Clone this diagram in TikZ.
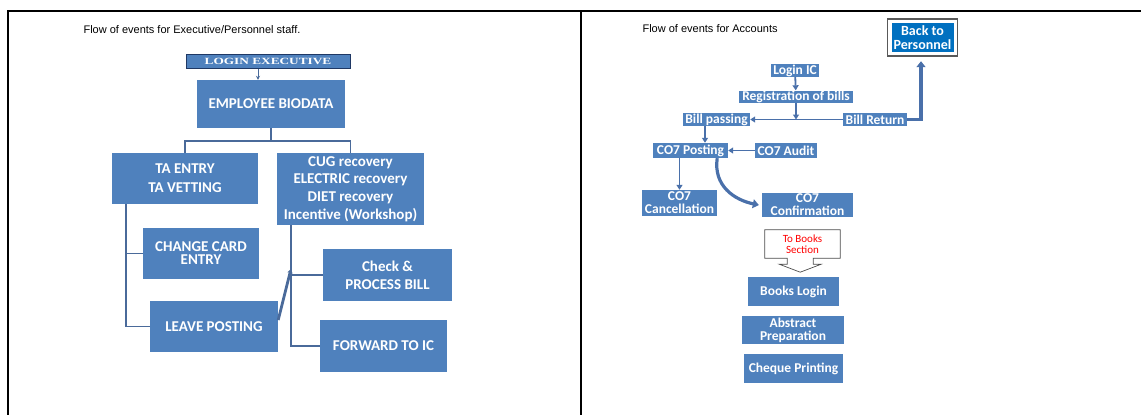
\documentclass[tikz,border=0pt]{standalone}
\usepackage{fontspec}
\usepackage{graphicx}
\setmainfont{Liberation Sans}
\newfontfamily\calfont{Carlito}
\newfontfamily\serfont{Liberation Serif}
\usetikzlibrary{arrows.meta,calc}
\definecolor{boxblue}{HTML}{4F81BD}
\definecolor{lineblue}{HTML}{4A6A9A}
\definecolor{arrblue}{HTML}{4A70AA}
\definecolor{backblue}{HTML}{0070C0}
\definecolor{navy}{HTML}{1F3864}
\begin{document}
\begin{tikzpicture}[x=1pt,y=-1pt,
 lbox/.style={fill=boxblue, text=white, inner sep=0pt, align=center, font=\calfont\bfseries\fontsize{15}{18}\selectfont},
 rbox/.style={fill=boxblue, text=white, inner sep=0pt, align=center, font=\calfont\bfseries\fontsize{13.5}{13}\selectfont},
 conn/.style={draw=lineblue, line width=1.8pt},
 rarr/.style={draw=arrblue, line width=1.8pt, -{Triangle[length=5pt,width=6pt]}},
 bigarr/.style={draw=arrblue, line width=3.2pt, -{Triangle[length=6pt,width=9pt]}},
 framel/.style={draw=black, line width=1.8pt},
]
\useasboundingbox (0,0) rectangle (1141,415);
% table frame
\draw[framel] (8,11) -- (1141,11);
\draw[framel] (8,10) -- (8,415);
\draw[framel] (581,10) -- (581,415);

% ---------- left panel ----------
\node[anchor=west, font=\fontsize{11}{12}\selectfont] (t1) at (80,30) {Flow of events for Executive/Personnel staff.};
\node[fill=boxblue, draw=navy, line width=1pt, minimum width=164, minimum height=14, inner sep=0pt, text=white,
      font=\serfont\bfseries\fontsize{9.5}{10}\selectfont] (login) at (268,61) {\scalebox{1.4}[1]{LOGIN EXECUTIVE}};
\node[lbox, minimum width=148, minimum height=48] (emp) at (271,104) {EMPLOYEE BIODATA};
\node[lbox, minimum width=146, minimum height=51, font=\calfont\bfseries\fontsize{15}{19}\selectfont] (ta) at (185,178.5) {TA ENTRY\\TA VETTING};
\node[lbox, minimum width=147, minimum height=72, font=\calfont\bfseries\fontsize{15}{17.7}\selectfont] (cug) at (350.5,189) {CUG recovery\\ELECTRIC recovery\\DIET recovery\\Incentive (Workshop)};
\node[lbox, minimum width=116, minimum height=51, font=\calfont\bfseries\fontsize{15}{13}\selectfont] (ccard) at (201,253.5) {CHANGE CARD\\ENTRY};
\node[lbox, minimum width=128, minimum height=51] (leave) at (214,326.5) {LEAVE POSTING};
\node[lbox, minimum width=129, minimum height=52] (check) at (387.5,275) {Check \&\\PROCESS BILL};
\node[lbox, minimum width=127, minimum height=52] (fwd) at (383.5,346) {FORWARD TO IC};

\draw[draw=lineblue, line width=0.8pt, -{Stealth[length=4pt,width=4pt]}] ([xshift=-10pt]login.south) -- ([xshift=-13pt]emp.north);
\coordinate (split) at (271,141);
\draw[conn] (emp.south) -- (split);
\draw[conn] (ta.north) |- (split) -| (cug.north);
\draw[conn] ([xshift=14pt]ta.south west) |- (leave.west);
\draw[conn] ([xshift=14pt]ta.south west |- ccard.west) -- (ccard.west);
\draw[conn] ([xshift=14pt]cug.south west) |- (fwd.west);
\draw[conn] ([xshift=14pt]cug.south west |- check.west) -- (check.west);
\coordinate (rj) at (291,269);
\draw[draw=lineblue, line width=2.8pt, -{Triangle[length=4pt,width=5pt]}] ([yshift=6.5pt]leave.east) -- (rj);

% ---------- right panel ----------
\node[anchor=west, font=\fontsize{11}{12}\selectfont] (t2) at (639,29) {Flow of events for Accounts};
\node[fill=backblue, text=white, inner sep=0pt, minimum width=62, minimum height=29, align=center,
      font=\calfont\bfseries\fontsize{14}{14}\selectfont] (back) at (922.5,37.5) {Back to\\Personnel};
\draw[draw=black!65, line width=1.5pt] ([shift={(-4pt,4pt)}]back.north west) rectangle ([shift={(4pt,-4pt)}]back.south east);

\node[rbox, minimum width=48, minimum height=13] (loginic) at (795,70.5) {Login IC};
\node[rbox, minimum width=114, minimum height=12] (reg) at (796,96.5) {Registration of bills};
\node[rbox, minimum width=67, minimum height=13] (billp) at (716.5,119.5) {Bill passing};
\node[rbox, minimum width=64, minimum height=13] (billr) at (875,119.5) {Bill Return};
\node[rbox, minimum width=75, minimum height=15] (co7p) at (690.5,150.5) {CO7 Posting};
\node[rbox, minimum width=62, minimum height=15] (co7a) at (786,150.5) {CO7 Audit};
\node[rbox, minimum width=75, minimum height=26] (co7c) at (679.5,203) {CO7\\Cancellation};
\node[rbox, minimum width=91, minimum height=24] (co7f) at (807.5,205) {CO7\\Confirmation};

\node[inner sep=0pt, minimum width=75, minimum height=28, align=center, text=red,
      font=\calfont\fontsize{11}{11}\selectfont] (tob) at (802.5,244) {To Books\\Section};
\draw[draw=black!70, line width=0.7pt] (tob.north west) -- (tob.north east) -- (tob.south east)
  -- ++(-27,0) -- ++(0,6) -- ++(8,0) -- ++(-21,8) -- ++(-21,-8) -- ++(8,0) -- ++(0,-6) -- (tob.south west) -- cycle;

\node[rbox, minimum width=91, minimum height=29] (books) at (793.5,291.5) {Books Login};
\node[rbox, minimum width=102, minimum height=28] (abs) at (793,330) {Abstract\\Preparation};
\node[rbox, minimum width=99, minimum height=29] (cheque) at (793.5,368.5) {Cheque Printing};

\draw[rarr] (loginic) -- (reg);
\draw[rarr] (reg.south) -- (reg.south |- billp.east);
\draw[rarr] (billr.west) -- (billp.east);
\draw[bigarr] (billr.east) -| ([xshift=-1.5pt,yshift=-9pt]back.south);
\draw[rarr] ([xshift=-11.5pt]billp.south) -- ([xshift=-11.5pt]billp.south |- co7p.north);
\draw[rarr] (co7a.west) -- (co7p.east);
\draw[rarr] (co7p.south -| co7c.north) -- (co7c.north);
\draw[bigarr] ([xshift=-11pt]co7p.south east) .. controls +(-4,28) and +(-24,-5) .. ([xshift=-3pt]co7f.west);
\end{tikzpicture}
\end{document}
